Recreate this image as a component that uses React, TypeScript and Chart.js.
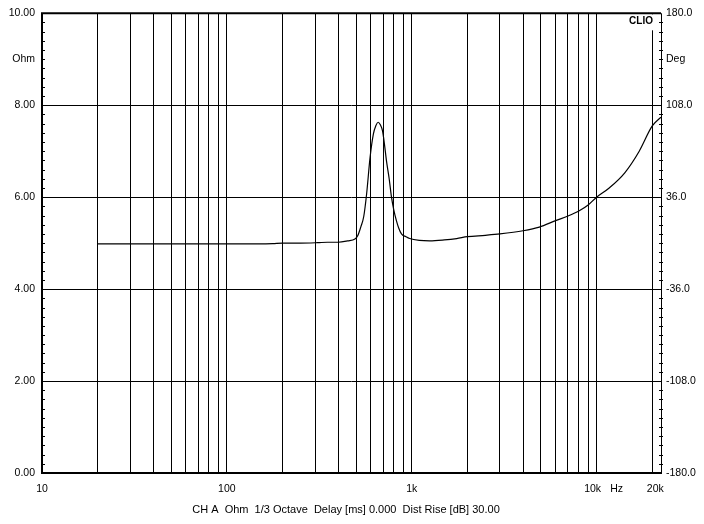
import React, { useEffect, useRef } from "react";
import { Chart, registerables } from "chart.js";

Chart.register(...registerables);

// Impedance curve (Hz, Ohm)
const freqHz = [
  20, 30, 50, 80, 100, 150, 177, 200, 250, 310, 350, 400, 450, 493, 510, 530, 550, 570, 595, 620, 640, 658,
  675, 695, 712, 730, 755, 777, 800, 826, 850, 880, 930, 975, 1100, 1250, 1500, 1750, 2000, 2500, 3000, 4000,
  4900, 6000, 7000, 8100, 9000, 10000, 11700, 14200, 17000, 20000, 22300,
];
const impedanceOhm = [
  4.985, 4.985, 4.985, 4.985, 4.985, 4.985, 4.99, 5.0, 5.0, 5.01, 5.02, 5.02, 5.05, 5.09, 5.16, 5.35, 5.58,
  6.07, 6.86, 7.37, 7.56, 7.63, 7.58, 7.44, 7.15, 6.79, 6.4, 6.0, 5.72, 5.49, 5.33, 5.2, 5.14, 5.1, 5.06, 5.05,
  5.07, 5.1, 5.14, 5.17, 5.2, 5.27, 5.35, 5.49, 5.59, 5.71, 5.83, 6.0, 6.2, 6.53, 7.0, 7.55, 7.74,
];

const gridFreqs = [
  20, 30, 40, 50, 60, 70, 80, 90, 100, 200, 300, 400, 500, 600, 700, 800, 900, 1000, 2000, 3000, 4000, 5000,
  6000, 7000, 8000, 9000, 10000, 20000,
];
const xLabelValues = [10, 100, 1000, 10000, 20000];
const xLabelTexts = ["10", "100", "1k", "10k", "20k"];
const xLabelShift = [0, 0, 0, -4, 3];

const leftTickValues = [0, 2, 4, 6, 8, 10];
const leftTickTexts = ["0.00", "2.00", "4.00", "6.00", "8.00", "10.00"];
const rightTickValues = [-180, -108, -36, 36, 108, 180];
const rightTickTexts = ["-180.0", "-108.0", "-36.0", "36.0", "108.0", "180.0"];

const FONT = "Liberation Sans, Arial, sans-serif";
const footerText = "CH A  Ohm  1/3 Octave  Delay [ms] 0.000  Dist Rise [dB] 30.00";

const overlay = {
  id: "clioOverlay",
  afterDraw(chart: any) {
    const { ctx, chartArea } = chart;
    const { left, right, top, bottom } = chartArea;
    const xs = chart.scales.x;
    const y = chart.scales.y;
    ctx.save();
    // CLIO label box
    ctx.fillStyle = "#ffffff";
    ctx.fillRect(right - 36, top + 1, 34, 16);
    ctx.fillStyle = "#000";
    ctx.font = "bold 10px " + FONT;
    ctx.textAlign = "right";
    ctx.textBaseline = "middle";
    ctx.fillText("CLIO", right - 8, top + 8);
    // minor ticks
    ctx.strokeStyle = "#000";
    ctx.lineWidth = 1;
    for (let i = 1; i < 50; i++) {
      if (i % 10 === 0) continue;
      const py = Math.round(y.getPixelForValue(i * 0.2)) + 0.5;
      ctx.beginPath();
      ctx.moveTo(left, py);
      ctx.lineTo(left + 3, py);
      ctx.moveTo(right - 2, py);
      ctx.lineTo(right + 2, py);
      ctx.stroke();
    }
    // frame: thick left/top/bottom, thin right
    ctx.lineWidth = 2;
    ctx.beginPath();
    ctx.moveTo(right, top);
    ctx.lineTo(left, top);
    ctx.lineTo(left, bottom);
    ctx.lineTo(right + 1, bottom);
    ctx.stroke();
    ctx.lineWidth = 1;
    ctx.beginPath();
    ctx.moveTo(Math.round(right) + 0.5, top);
    ctx.lineTo(Math.round(right) + 0.5, bottom);
    ctx.stroke();
    // x labels
    ctx.font = "10.5px " + FONT;
    ctx.textAlign = "center";
    ctx.textBaseline = "middle";
    xLabelValues.forEach((v, i) => {
      ctx.fillText(xLabelTexts[i], xs.getPixelForValue(v) + xLabelShift[i], bottom + 16);
    });
    ctx.fillText("Hz", xs.getPixelForValue(10000) + 20, bottom + 16);
    ctx.font = "11px " + FONT;
    ctx.fillText(footerText, 346, bottom + 37);
    ctx.restore();
  },
};

export default function App() {
  const ref = useRef<HTMLCanvasElement>(null);
  useEffect(() => {
    if (!ref.current) return;
    const chart = new Chart(ref.current, {
      type: "line",
      data: {
        datasets: [
          {
            data: freqHz.map((f, i) => ({ x: f, y: impedanceOhm[i] })),
            borderColor: "#000",
            borderWidth: 1.2,
            pointRadius: 0,
            cubicInterpolationMode: "monotone",
            yAxisID: "y",
          },
        ],
      },
      options: {
        animation: false,
        responsive: false,
        devicePixelRatio: 1,
        layout: { padding: { top: 12, left: 0, right: 0, bottom: 0 } },
        plugins: { legend: { display: false }, tooltip: { enabled: false } },
        scales: {
          x: {
            type: "logarithmic",
            min: 10,
            max: 22300,
            border: { display: false },
            afterBuildTicks: (s: any) => {
              s.ticks = gridFreqs.map((v) => ({ value: v }));
            },
            afterFit: (s: any) => {
              s.height = 51;
            },
            grid: { color: "#000", lineWidth: 1, drawTicks: false },
            ticks: { display: false, autoSkip: false },
          },
          y: {
            type: "linear",
            position: "left",
            min: 0,
            max: 10,
            border: { display: false },
            afterBuildTicks: (s: any) => {
              s.ticks = [...leftTickValues, 9].map((v) => ({ value: v }));
            },
            afterFit: (s: any) => {
              s.width = 42;
            },
            grid: {
              drawTicks: false,
              lineWidth: 1,
              color: (c: any) => (c.tick && c.tick.value === 9 ? "rgba(0,0,0,0)" : "#000"),
            },
            ticks: {
              autoSkip: false,
              padding: 7,
              color: "#000",
              font: { family: FONT, size: 10.5 },
              callback: (v: any) => {
                if (v === 9) return "Ohm";
                const i = leftTickValues.indexOf(v);
                return i >= 0 ? leftTickTexts[i] : "";
              },
            },
          },
          y2: {
            type: "linear",
            position: "right",
            min: -180,
            max: 180,
            border: { display: false },
            afterBuildTicks: (s: any) => {
              s.ticks = [...rightTickValues, 144].map((v) => ({ value: v }));
            },
            afterFit: (s: any) => {
              s.width = 43;
            },
            grid: { display: false, drawTicks: false },
            ticks: {
              autoSkip: false,
              padding: 5,
              color: "#000",
              font: { family: FONT, size: 10.5 },
              callback: (v: any) => {
                if (v === 144) return "Deg";
                const i = rightTickValues.indexOf(v);
                return i >= 0 ? rightTickTexts[i] : "";
              },
            },
          },
        },
      } as any,
      plugins: [overlay],
    });
    return () => chart.destroy();
  }, []);
  return (
    <div style={{ position: "fixed", left: 0, top: 0, width: 704, height: 524, background: "#fff" }}>
      <canvas ref={ref} width={704} height={524} />
    </div>
  );
}
